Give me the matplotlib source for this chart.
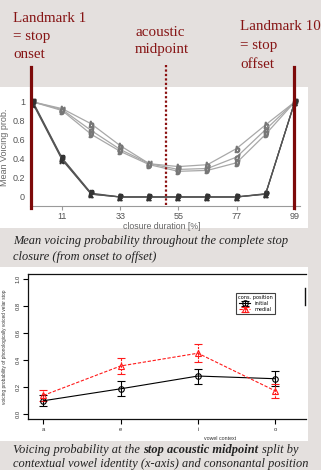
import matplotlib
matplotlib.use('Agg')
import matplotlib.pyplot as plt
from matplotlib.lines import Line2D
from matplotlib.patches import Rectangle

W, H = 321, 470

# ---------------- data ----------------
landmarks = [0, 11, 22, 33, 44, 55, 66, 77, 88, 99]
closure_ticks = [11, 33, 55, 77, 99]
prob_ticks = [0, 0.2, 0.4, 0.6, 0.8, 1.0]
prob_ticklabels = ['0', '0.2', '0.4', '0.6', '0.8', '1']

voiced_b = [1.0, 0.93, 0.77, 0.54, 0.35, 0.32, 0.34, 0.51, 0.76, 1.0]
voiced_d = [1.0, 0.92, 0.70, 0.50, 0.35, 0.29, 0.30, 0.42, 0.71, 1.0]
voiced_g = [1.0, 0.91, 0.66, 0.48, 0.34, 0.27, 0.28, 0.36, 0.66, 1.0]
voiceless_p = [1.0, 0.41, 0.04, 0.0, 0.0, 0.0, 0.0, 0.0, 0.035, 1.0]
voiceless_t = [0.99, 0.40, 0.03, 0.0, 0.0, 0.0, 0.0, 0.0, 0.03, 1.0]
voiceless_k = [0.98, 0.39, 0.03, 0.0, 0.0, 0.0, 0.0, 0.0, 0.03, 1.0]

vowels = ['a', 'e', 'i', 'o']
initial_mean = [0.096, 0.185, 0.28, 0.26]
initial_err = [0.042, 0.055, 0.056, 0.054]
medial_mean = [0.136, 0.355, 0.45, 0.17]
medial_err = [0.042, 0.063, 0.066, 0.05]
vc_ticks = [0.0, 0.2, 0.4, 0.6, 0.8, 1.0]
vc_ticklabels = ['0.0', '0.2', '0.4', '0.6', '0.8', '1.0']

# ---------------- helpers ----------------
def fx(x):
    return x / W

def fy(y):
    return 1 - y / H

def rect(l, t, r, b):
    return [l / W, 1 - b / H, (r - l) / W, (b - t) / H]

fig = plt.figure(figsize=(W / 100, H / 100), dpi=100)
fig.patch.set_facecolor('#e4e0de')

# white panels
for (l, t, r, b) in [(0, 87, 308, 228), (0, 267, 308, 441)]:
    fig.add_artist(Rectangle((fx(l), fy(b)), (r - l) / W, (b - t) / H,
                             transform=fig.transFigure, facecolor='white',
                             edgecolor='none', zorder=-5))

DARKRED = '#861414'
SERIF = ['Liberation Serif', 'DejaVu Serif']
SANS = ['Liberation Sans', 'DejaVu Sans']

# ---------------- top chart ----------------
ax1 = fig.add_axes(rect(30.4, 94, 300, 206))
ax1.set_facecolor('none')
ax1.set_xlim(-1, 101)
ax1.set_ylim(-0.095, 1.084)
for s in ['top', 'right', 'left']:
    ax1.spines[s].set_visible(False)
ax1.spines['bottom'].set_color('#9a9a9a')
ax1.spines['bottom'].set_linewidth(0.8)

for vals, mk in [(voiced_b, '$b$'), (voiced_d, '$d$'), (voiced_g, '$g$')]:
    ax1.plot(landmarks, vals, color='#a8a8a8', lw=0.9, marker=mk, ms=4.5,
             mec='#777777', mfc='#777777')
for vals, mk in [(voiceless_p, '$p$'), (voiceless_t, '$t$'), (voiceless_k, '$k$')]:
    ax1.plot(landmarks, vals, color='#555555', lw=0.9, marker=mk, ms=4.5,
             mec='#333333', mfc='#333333')

ax1.set_xticks(closure_ticks)
ax1.set_xticklabels([str(t) for t in closure_ticks])
ax1.set_yticks(prob_ticks)
ax1.set_yticklabels(prob_ticklabels)
ax1.tick_params(axis='x', length=3, color='#9a9a9a', labelsize=6.5,
                labelcolor='#555555', pad=1)
ax1.tick_params(axis='y', length=0, labelsize=6.5, labelcolor='#555555', pad=4)
for lab in ax1.get_xticklabels() + ax1.get_yticklabels():
    lab.set_family(SANS)

fig.text(fx(5), fy(147), 'Mean Voicing prob.', rotation=90, ha='center',
         va='center', fontsize=6.5, color='#666666', family=SANS)
fig.text(fx(162), fy(226.5), 'closure duration [%]', ha='center', va='center',
         fontsize=6.3, color='#666666', family=SANS)

# landmark / midpoint lines
fig.add_artist(Line2D([fx(30.5), fx(30.5)], [fy(67), fy(208)], color='#7d0a0a',
                      lw=2.3, transform=fig.transFigure, zorder=10))
fig.add_artist(Line2D([fx(293.5), fx(293.5)], [fy(67), fy(208)], color='#7d0a0a',
                      lw=2.3, transform=fig.transFigure, zorder=10))
fig.add_artist(Line2D([fx(166), fx(166)], [fy(65), fy(207)], color='#8b1010',
                      lw=1.6, ls=(0, (1, 1)), transform=fig.transFigure, zorder=10))

ann_fs = 10.8
for i, line in enumerate(['Landmark 1', '= stop', 'onset']):
    fig.text(fx(13), fy(18 + 18.5 * i), line, ha='left', va='center',
             fontsize=ann_fs, color=DARKRED, family=SERIF)
for i, line in enumerate(['acoustic', 'midpoint']):
    fig.text(fx(135), fy(32 + 17.5 * i), line, ha='left', va='center',
             fontsize=ann_fs, color=DARKRED, family=SERIF)
for i, line in enumerate(['Landmark 10', '= stop', 'offset']):
    fig.text(fx(240), fy(27 + 18.5 * i), line, ha='left', va='center',
             fontsize=ann_fs, color=DARKRED, family=SERIF)

# caption 1
cap_fs = 8.9
fig.text(fx(13), fy(241), 'Mean voicing probability throughout the complete stop',
         ha='left', va='center', fontsize=cap_fs, style='italic', color='#222222',
         family=SERIF)
fig.text(fx(13), fy(257), 'closure (from onset to offset)',
         ha='left', va='center', fontsize=cap_fs, style='italic', color='#222222',
         family=SERIF)

# ---------------- bottom chart ----------------
ax2 = fig.add_axes(rect(28, 274, 306, 419))
ax2.set_facecolor('none')
xpos = list(range(1, len(vowels) + 1))
ax2.set_xlim(0.8, 4.4)
ax2.set_ylim(-0.04, 1.04)
ax2.spines['right'].set_visible(False)
for s in ['top', 'bottom', 'left']:
    ax2.spines[s].set_linewidth(0.9)
    ax2.spines[s].set_color('#111111')

e1 = ax2.errorbar(xpos, initial_mean, yerr=initial_err, color='black', lw=0.8,
                  marker='o', ms=4, mfc='none', mec='black', mew=0.8,
                  capsize=3, capthick=0.8, elinewidth=0.8, label='initial')
e2 = ax2.errorbar(xpos, medial_mean, yerr=medial_err, color='#ff1a1a', lw=0.8,
                  ls='--', dashes=(3, 1.5), marker='^', ms=4.5, mfc='none',
                  mec='#ff1a1a', mew=0.8, capsize=3, capthick=0.8,
                  elinewidth=0.8, label='medial')
for bl in e2[2]:
    bl.set_linestyle((0, (2, 1)))

ax2.set_xticks(xpos)
ax2.set_xticklabels(vowels)
ax2.set_yticks(vc_ticks)
ax2.set_yticklabels(vc_ticklabels, rotation=90, va='center')
ax2.tick_params(axis='both', length=3.5, width=0.8, labelsize=4.2,
                labelcolor='#333333', pad=2)
for lab in ax2.get_xticklabels() + ax2.get_yticklabels():
    lab.set_family(SANS)

leg = ax2.legend(title='cons. position', loc='upper left',
                 bbox_to_anchor=(fx(236), fy(293)), bbox_transform=fig.transFigure,
                 fontsize=3.6, title_fontsize=3.6, frameon=True, fancybox=False,
                 borderpad=0.4, handlelength=2.2, labelspacing=0.2,
                 handletextpad=0.8, borderaxespad=0)
leg.get_frame().set_edgecolor('#111111')
leg.get_frame().set_linewidth(0.8)

# stray right bar
fig.add_artist(Line2D([fx(305), fx(305)], [fy(288), fy(305)], color='#111111',
                      lw=1.0, transform=fig.transFigure, zorder=10))

fig.text(fx(5), fy(347), 'voicing probability of phonologically voiced velar stop',
         rotation=90, ha='center', va='center', fontsize=3.4, color='#333333',
         family=SANS)
fig.text(fx(220), fy(439), 'vowel context', ha='center', va='center',
         fontsize=3.8, color='#333333', family=SANS)

# caption 2 (mixed italic / bold italic)
fig.canvas.draw()
renderer = fig.canvas.get_renderer()
parts = [('Voicing probability at the', 'normal', 0),
         ('stop acoustic midpoint', 'bold', 3.5),
         ('split by', 'normal', 3.5)]
x = 13
for txt, wt, gap in parts:
    x += gap
    t = fig.text(fx(x), fy(450), txt, ha='left', va='center', fontsize=cap_fs,
                 style='italic', weight=wt, color='#222222', family=SERIF)
    bb = t.get_window_extent(renderer=renderer)
    x += bb.width
fig.text(fx(13), fy(464), 'contextual vowel identity (x-axis) and consonantal position',
         ha='left', va='center', fontsize=cap_fs, style='italic', color='#222222',
         family=SERIF)

fig.savefig('out.png', dpi=100, facecolor=fig.get_facecolor())
